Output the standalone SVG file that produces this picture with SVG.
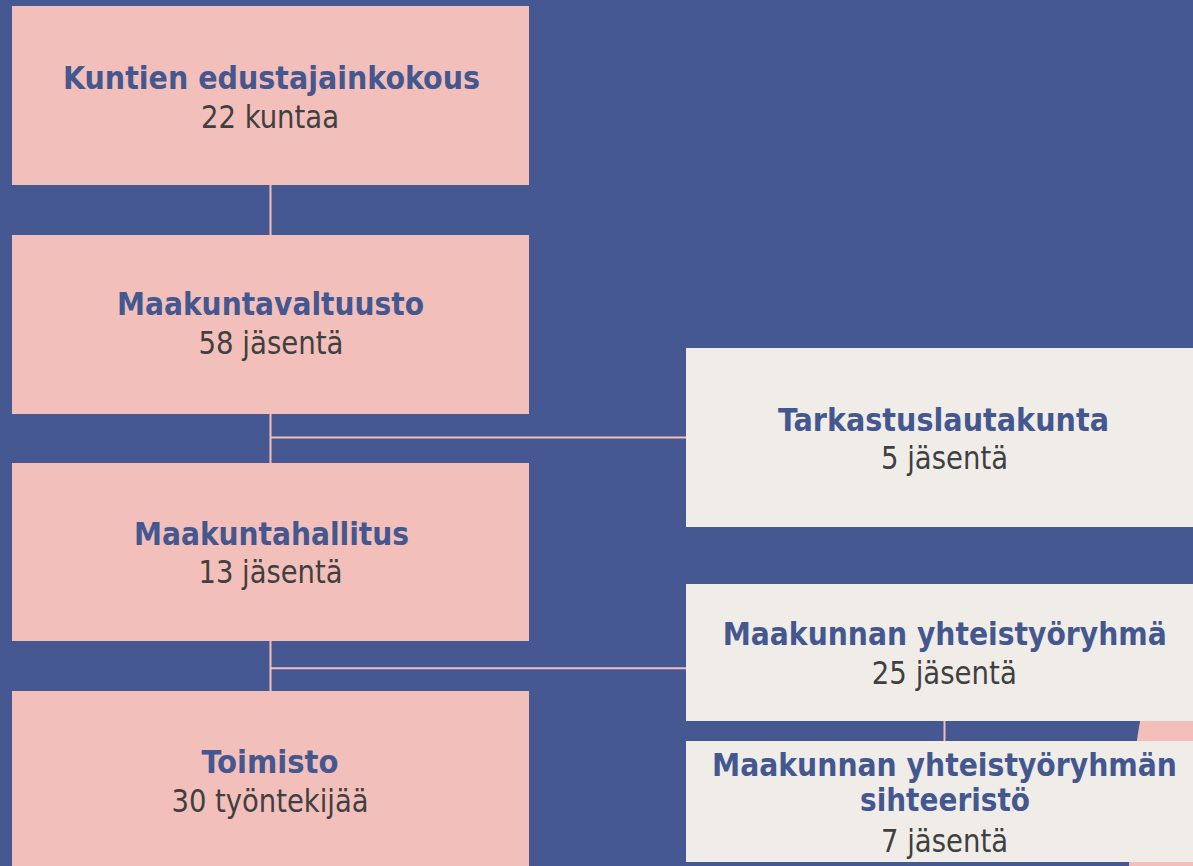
<svg xmlns="http://www.w3.org/2000/svg" width="1193" height="866" viewBox="0 0 1193 866">
<style>
.bg{fill:#455891}
.pink{fill:#f3bfbb}
.gray{fill:#f0ede9}
.t{font-family:"DejaVu Sans Condensed","DejaVu Sans",sans-serif;font-size:32px;font-weight:bold;fill:#44578f;text-anchor:middle}
.s{font-family:"DejaVu Sans Condensed","DejaVu Sans",sans-serif;font-size:32px;fill:#404040;text-anchor:middle}
.c{stroke:#f3bfbb;stroke-width:2;fill:none}
</style>
<rect class="bg" x="0" y="0" width="1193" height="866"/>
<path class="pink" d="M1142,712 L1193,712 L1193,866 L1129,866 Q1131,760 1142,712 Z"/>
<g id="connectors">
<line class="c" x1="270.5" y1="185" x2="270.5" y2="235"/>
<line class="c" x1="270.5" y1="414" x2="270.5" y2="463"/>
<line class="c" x1="270.5" y1="641" x2="270.5" y2="691"/>
<line class="c" x1="271" y1="437.5" x2="686" y2="437.5"/>
<line class="c" x1="271" y1="668.3" x2="686" y2="668.3"/>
<line class="c" x1="944.5" y1="721" x2="944.5" y2="741"/>
</g>
<g id="n1">
<rect class="pink" x="12" y="6" width="517" height="179"/>
<text class="t" x="271.5" y="89" textLength="417" lengthAdjust="spacingAndGlyphs">Kuntien edustajainkokous</text>
<text class="s" x="270" y="128" textLength="138" lengthAdjust="spacingAndGlyphs">22 kuntaa</text>
</g>
<g id="n2">
<rect class="pink" x="12" y="235" width="517" height="179"/>
<text class="t" x="270.5" y="315" textLength="307" lengthAdjust="spacingAndGlyphs">Maakuntavaltuusto</text>
<text class="s" x="271" y="354" textLength="145" lengthAdjust="spacingAndGlyphs">58 jäsentä</text>
</g>
<g id="n3">
<rect class="pink" x="12" y="463" width="517" height="178"/>
<text class="t" x="271.5" y="545" textLength="275" lengthAdjust="spacingAndGlyphs">Maakuntahallitus</text>
<text class="s" x="270.5" y="583" textLength="144" lengthAdjust="spacingAndGlyphs">13 jäsentä</text>
</g>
<g id="n4">
<rect class="pink" x="12" y="691" width="517" height="180"/>
<text class="t" x="270" y="773" textLength="137" lengthAdjust="spacingAndGlyphs">Toimisto</text>
<text class="s" x="270" y="812" textLength="197" lengthAdjust="spacingAndGlyphs">30 työntekijää</text>
</g>
<g id="n5">
<rect class="gray" x="686" y="348" width="520" height="179"/>
<text class="t" x="943.5" y="431" textLength="331" lengthAdjust="spacingAndGlyphs">Tarkastuslautakunta</text>
<text class="s" x="944.5" y="469" textLength="127" lengthAdjust="spacingAndGlyphs">5 jäsentä</text>
</g>
<g id="n6">
<rect class="gray" x="686" y="584" width="520" height="137"/>
<text class="t" x="944.7" y="645" textLength="444" lengthAdjust="spacingAndGlyphs">Maakunnan yhteistyöryhmä</text>
<text class="s" x="944.3" y="684" textLength="145" lengthAdjust="spacingAndGlyphs">25 jäsentä</text>
</g>
<g id="n7">
<rect class="gray" x="686" y="741" width="520" height="121"/>
<text class="t" x="944.5" y="776" textLength="465" lengthAdjust="spacingAndGlyphs">Maakunnan yhteistyöryhmän</text>
<text class="t" x="945" y="811" textLength="170" lengthAdjust="spacingAndGlyphs">sihteeristö</text>
<text class="s" x="944.5" y="852" textLength="127" lengthAdjust="spacingAndGlyphs">7 jäsentä</text>
</g>
</svg>
